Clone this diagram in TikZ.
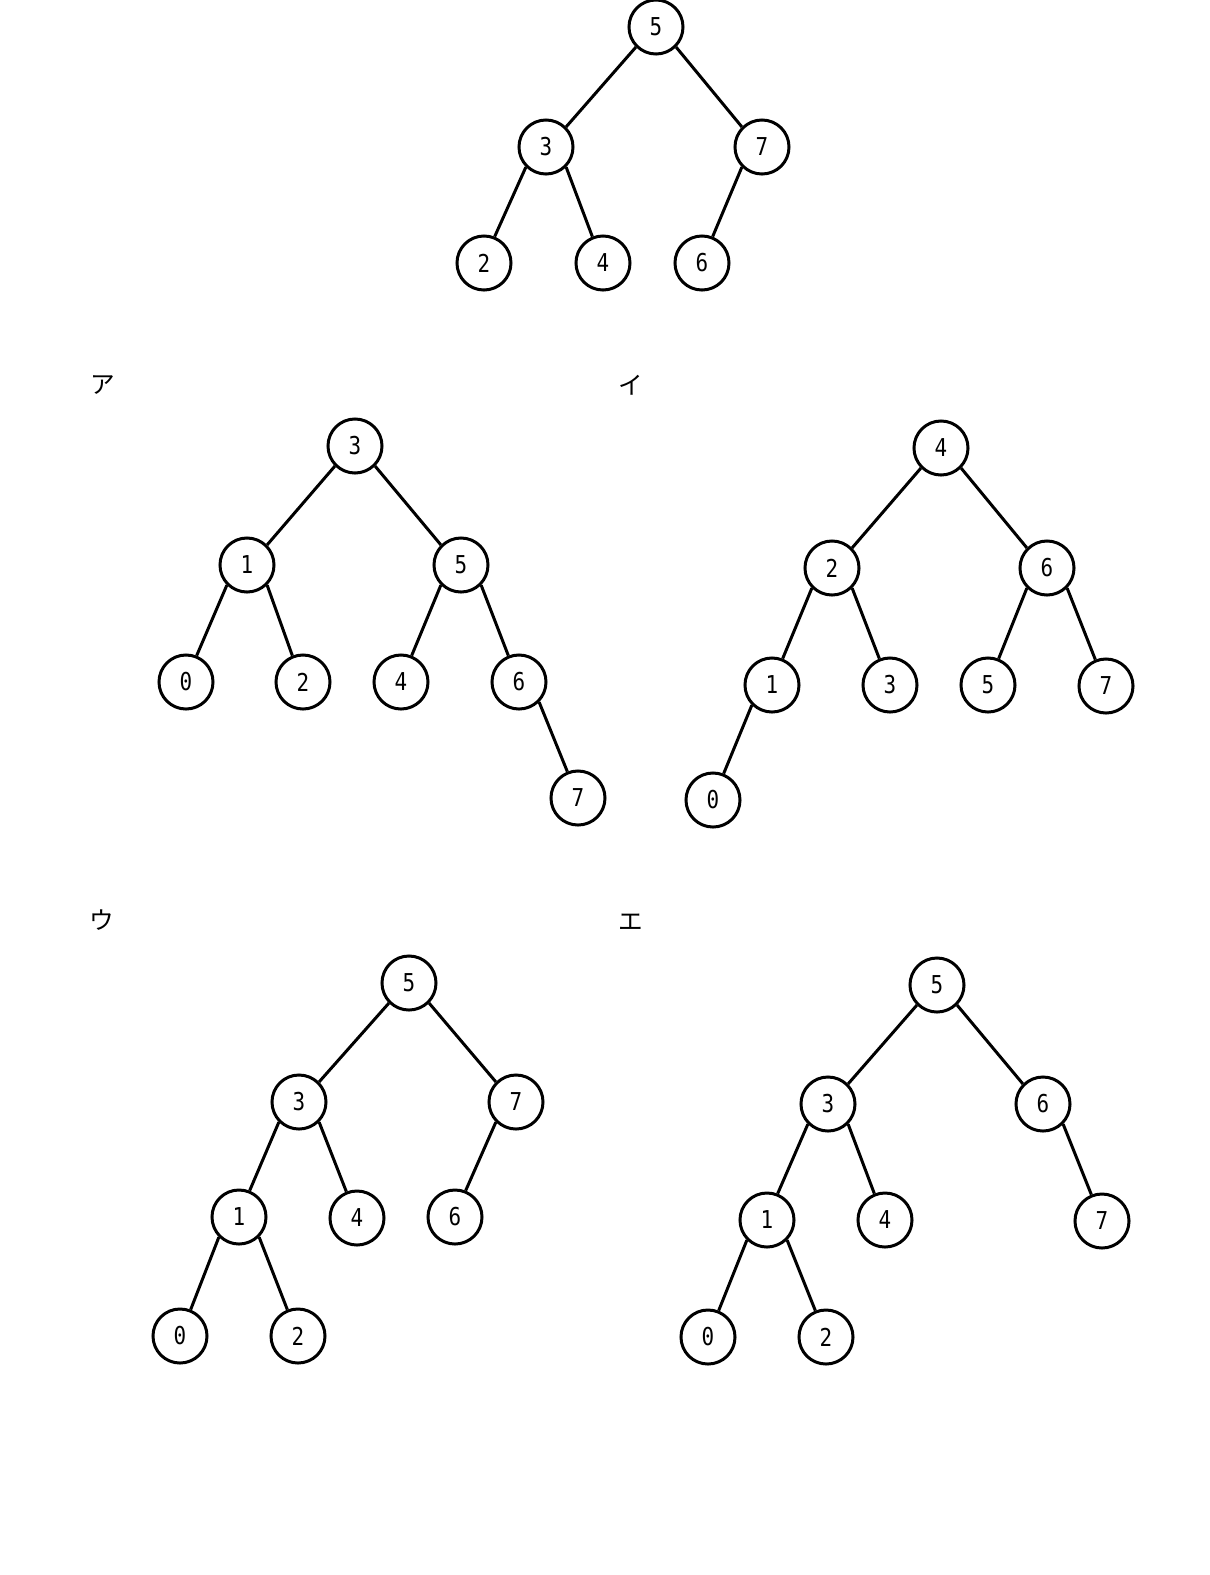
\documentclass[tikz,border=0pt]{standalone}
\usepackage{fontspec}
\newfontfamily\digfont[FakeStretch=0.85]{DejaVu Sans Mono}
\newfontfamily\jpfont{Noto Sans CJK JP}
\begin{document}
\begin{tikzpicture}[x=0.01cm,y=-0.01cm,
  nd/.style={circle,draw,line width=0.85pt,minimum size=0.54cm,inner sep=0pt,font=\digfont\fontsize{7pt}{8pt}\selectfont},
  ed/.style={line width=0.85pt},
  lbl/.style={font=\jpfont\fontsize{7pt}{8pt}\selectfont,inner sep=0pt}]
\useasboundingbox[fill=white] (0,0) rectangle (1210,1575);
% top tree
\node[nd] (t5) at (656,27) {5};
\node[nd] (t3) at (546,147) {3};
\node[nd] (t7) at (762,147) {7};
\node[nd] (t2) at (484,263) {2};
\node[nd] (t4) at (603,263) {4};
\node[nd] (t6) at (702,263) {6};
\draw[ed] (t5.225)--(t3.45) (t5.315)--(t7.135) (t3.225)--(t2.68) (t3.315)--(t4.112) (t7.225)--(t6.68);
% labels
\node[lbl] (la) at (103,385) {ア};
\node[lbl] (li) at (631,385) {イ};
\node[lbl] (lu) at (102,920) {ウ};
\node[lbl] (le) at (631,922) {エ};
% tree A
\node[nd] (a3) at (355,446) {3};
\node[nd] (a1) at (247,565) {1};
\node[nd] (a5) at (461,565) {5};
\node[nd] (a0) at (186,682) {0};
\node[nd] (a2) at (303,682) {2};
\node[nd] (a4) at (401,682) {4};
\node[nd] (a6) at (519,682) {6};
\node[nd] (a7) at (578,798) {7};
\draw[ed] (a3.225)--(a1.45) (a3.315)--(a5.135) (a1.225)--(a0.68) (a1.315)--(a2.112) (a5.225)--(a4.68) (a5.315)--(a6.112) (a6.315)--(a7.112);
% tree I
\node[nd] (i4) at (941,448) {4};
\node[nd] (i2) at (832,568) {2};
\node[nd] (i6) at (1047,568) {6};
\node[nd] (i1) at (772,685) {1};
\node[nd] (i3) at (890,685) {3};
\node[nd] (i5) at (988,685) {5};
\node[nd] (i7) at (1106,686) {7};
\node[nd] (i0) at (713,800) {0};
\draw[ed] (i4.225)--(i2.45) (i4.315)--(i6.135) (i2.225)--(i1.68) (i2.315)--(i3.112) (i6.225)--(i5.68) (i6.315)--(i7.112) (i1.225)--(i0.68);
% tree U
\node[nd] (u5) at (409,983) {5};
\node[nd] (u3) at (299,1102) {3};
\node[nd] (u7) at (516,1102) {7};
\node[nd] (u1) at (239,1217) {1};
\node[nd] (u4) at (357,1218) {4};
\node[nd] (u6) at (455,1217) {6};
\node[nd] (u0) at (180,1336) {0};
\node[nd] (u2) at (298,1336) {2};
\draw[ed] (u5.225)--(u3.45) (u5.315)--(u7.135) (u3.225)--(u1.68) (u3.315)--(u4.112) (u7.225)--(u6.68) (u1.225)--(u0.68) (u1.315)--(u2.112);
% tree E
\node[nd] (e5) at (937,985) {5};
\node[nd] (e3) at (828,1104) {3};
\node[nd] (e6) at (1043,1104) {6};
\node[nd] (e1) at (767,1220) {1};
\node[nd] (e4) at (885,1220) {4};
\node[nd] (e7) at (1102,1221) {7};
\node[nd] (e0) at (708,1337) {0};
\node[nd] (e2) at (826,1337) {2};
\draw[ed] (e5.225)--(e3.45) (e5.315)--(e6.135) (e3.225)--(e1.68) (e3.315)--(e4.112) (e6.315)--(e7.112) (e1.225)--(e0.68) (e1.315)--(e2.112);
\end{tikzpicture}
\end{document}
